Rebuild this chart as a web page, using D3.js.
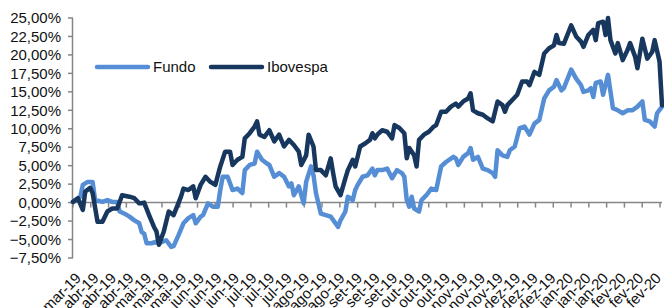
<!DOCTYPE html>
<html lang="pt">
<head>
<meta charset="UTF-8">
<title>Fundo x Ibovespa</title>
<script src="https://cdn.jsdelivr.net/npm/d3@7"></script>
<style>
  body { margin: 0; background: #fff; }
  text { font-family: "Liberation Sans", Arial, sans-serif; font-size: 15px; fill: #111; }
</style>
</head>
<body>
<script>
// rótulos do eixo x (um a cada ~7 pregões)
const rotulos = ['mar-19',
  'abr-19', 'abr-19', 'abr-19', 'mai-19', 'mai-19', 'mai-19',
  'jun-19', 'jun-19', 'jun-19', 'jul-19', 'jul-19', 'jul-19',
  'ago-19', 'ago-19', 'ago-19', 'set-19', 'set-19', 'set-19',
  'out-19', 'out-19', 'out-19', 'nov-19', 'nov-19', 'nov-19',
  'dez-19', 'dez-19', 'dez-19', 'jan-20', 'jan-20', 'jan-20',
  'fev-20', 'fev-20', 'fev-20']
const yTicks = [-7.5, -5, -2.5, 0, 2.5, 5, 7.5, 10, 12.5, 15, 17.5, 20, 22.5, 25]
const totalDias = 240

// retorno acumulado (%) por pregão
const fundoDia = [0, 3, 4, 6, 8, 9, 12, 14, 16, 18, 19, 21, 23, 25, 27, 28, 29, 30, 32, 34, 35, 38, 40, 41,
  43, 45, 47, 49, 50, 52, 53, 55, 57, 59, 60, 61, 63, 65, 67, 69, 70, 72, 74, 75, 77, 79, 80, 82,
  84, 86, 88, 89, 90, 92, 94, 95, 97, 98, 99, 101, 103, 105, 107, 108, 109, 111, 112, 114, 115, 116,
  118, 120, 122, 123, 124, 126, 128, 130, 132, 134, 135, 136, 137, 138, 139, 141, 142, 144, 146, 148,
  149, 150, 152, 155, 156, 157, 159, 161, 162, 163, 165, 167, 169, 171, 172, 173, 175, 177, 178, 180,
  182, 184, 186, 188, 190, 192, 194, 196, 197, 199, 200, 203, 205, 207, 208, 210, 211, 212, 213, 215,
  216, 218, 220, 222, 224, 226, 228, 230, 232, 233, 235, 237, 238, 240]
const fundoValor = [0.1, 0.8, 2.4, 2.8, 2.8, 0.35, 0.1, 0.35, 0.1, 0.1, -1.2, -1.5, -1.9, -2.4, -2.8, -4.0, -4.2, -5.5, -5.5, -5.3, -5.5, -5.1, -6.0, -5.9,
  -4.4, -2.8, -2.1, -1.7, -2.8, -1.9, -1.7, -0.1, -0.55, -0.55, 1.7, 3.5, 3.5, 1.7, 1.9, 1.3, 4.4, 5.1, 5.3, 6.9, 5.8, 5.3, 5.1, 3.5,
  4.0, 3.5, 2.2, 2.6, 1.0, 2.2, -0.1, 2.8, 4.9, 3.7, 1.3, -1.5, -1.7, -1.9, -2.8, -3.3, -2.4, -1.2, 0.8, 0.35, 1.7, 2.4,
  3.5, 3.7, 4.6, 3.7, 4.4, 4.4, 4.6, 3.3, 4.4, 4.0, 3.5, 0.35, -0.55, 0.8, -0.8, -1.2, 0.35, 1.0, 1.9, 1.7,
  3.3, 4.9, 5.5, 6.2, 6.0, 5.1, 6.2, 6.7, 7.4, 5.8, 6.2, 4.6, 4.4, 4.0, 3.5, 7.1, 6.4, 6.2, 7.1, 7.6,
  10.1, 10.3, 9.2, 10.7, 11.2, 14.1, 15.2, 15.7, 16.6, 15.2, 15.5, 18.0, 16.8, 15.9, 15.0, 15.2, 15.5, 14.3, 16.2, 16.4,
  14.6, 17.3, 12.8, 12.5, 12.1, 12.5, 12.5, 13.0, 13.7, 11.2, 11.0, 10.3, 12.1, 13.0]

const iboDia = [0, 2, 4, 5, 7, 8, 10, 12, 14, 16, 18, 20, 23, 25, 27, 29, 31, 33, 34, 35, 37, 39, 41,
  44, 45, 47, 49, 50, 52, 54, 56, 58, 60, 62, 64, 65, 67, 69, 70, 72, 74, 75, 76, 78, 80, 82,
  84, 86, 88, 90, 92, 93, 95, 96, 98, 99, 101, 103, 105, 106, 107, 109, 111, 112, 114, 115, 117, 119,
  121, 122, 123, 124, 126, 128, 130, 131, 133, 135, 136, 137, 139, 140, 141, 143, 145, 147, 148, 150,
  152, 154, 156, 157, 159, 161, 162, 163, 165, 167, 169, 171, 173, 175, 176, 177, 179, 181, 183, 185,
  186, 188, 190, 192, 194, 196, 197, 198, 200, 203, 205, 207, 208, 210, 212, 213, 214, 216, 217, 218,
  219, 221, 222, 224, 226, 227, 229, 230, 232, 234, 236, 237, 239, 240]
const iboValor = [0.1, 0.6, -1.0, 1.5, 2.0, 1.3, -2.6, -2.6, -1.2, -0.8, -0.8, 1.0, 0.8, 0.6, -0.1, 0.0, -1.7, -3.3, -3.9, -5.7, -3.9, -1.2, -1.7,
  0.8, 1.9, 1.7, 2.2, 0.6, 2.4, 3.5, 2.8, 2.4, 4.9, 6.9, 6.9, 5.1, 5.8, 6.2, 8.7, 9.4, 10.3, 11.0, 9.2, 8.9, 9.8, 8.3,
  9.2, 7.6, 8.5, 7.8, 6.9, 5.1, 6.4, 9.2, 7.6, 4.4, 4.4, 3.7, 6.0, 4.0, 2.2, 1.0, 3.3, 4.4, 5.8, 4.9, 7.6, 8.0,
  8.5, 9.4, 8.7, 9.2, 9.8, 9.6, 8.7, 10.5, 10.1, 9.4, 6.0, 7.4, 6.4, 4.9, 8.5, 9.2, 9.6, 10.3, 10.5, 12.3,
  12.3, 13.0, 13.4, 13.0, 13.7, 14.1, 14.8, 12.5, 12.1, 11.9, 11.4, 11.0, 13.7, 13.2, 12.3, 13.2, 13.9, 14.6, 16.4, 16.4,
  15.9, 17.7, 17.3, 20.2, 20.9, 21.3, 22.7, 21.6, 21.5, 24.0, 22.5, 21.8, 21.1, 22.7, 23.4, 22.0, 24.3, 24.5, 22.7, 25.0,
  22.0, 20.2, 21.6, 19.3, 20.7, 21.6, 19.8, 18.2, 22.2, 19.5, 20.4, 22.0, 19.1, 13.2]

const series = [
  {nome: 'Fundo', cor: '#558ED5', dias: fundoDia, valores: fundoValor},
  {nome: 'Ibovespa', cor: '#17375E', dias: iboDia, valores: iboValor}
]

const [width, height] = [664, 308]
const plot = {left: 73, right: 662, top: 18, bottom: 258}

const locale = d3.formatLocale({decimal: ',', thousands: '.', grouping: [3], currency: ['R$', '']})
const fmt = locale.format('.2f')

const x = d3.scaleLinear().domain([0, totalDias]).range([plot.left, plot.right])
const y = d3.scaleLinear().domain([-7.5, 25]).range([plot.bottom, plot.top])
const xTick = d3.scalePoint().domain(d3.range(rotulos.length)).range([73, 660])
const xLabel = d3.scalePoint().domain(d3.range(rotulos.length)).range([82, 662])

const svg = d3.select('body').append('svg')
  .attr('width', width)
  .attr('height', height)

// eixo y
const yAxis = svg.append('g')
yAxis.append('line')
  .attr('x1', plot.left - 0.5).attr('x2', plot.left - 0.5)
  .attr('y1', plot.top).attr('y2', plot.bottom)
  .attr('stroke', '#868686').attr('stroke-width', 1.5)
yAxis.selectAll('line.tick').data(yTicks).enter()
  .append('line').attr('class', 'tick')
  .attr('x1', plot.left - 5).attr('x2', plot.left)
  .attr('y1', d => y(d)).attr('y2', d => y(d))
  .attr('stroke', '#868686').attr('stroke-width', 1.5)
yAxis.selectAll('text').data(yTicks).enter()
  .append('text')
  .attr('x', 61)
  .attr('y', d => y(d))
  .attr('dy', '0.35em')
  .attr('text-anchor', 'end')
  .text(d => fmt(d) + '%')

// eixo x na linha do zero
const xAxis = svg.append('g')
xAxis.append('line')
  .attr('x1', plot.left).attr('x2', plot.right)
  .attr('y1', y(0)).attr('y2', y(0))
  .attr('stroke', '#868686').attr('stroke-width', 1.5)
xAxis.selectAll('line.tick').data(d3.range(rotulos.length)).enter()
  .append('line').attr('class', 'tick')
  .attr('x1', d => xTick(d)).attr('x2', d => xTick(d))
  .attr('y1', y(0)).attr('y2', y(0) + 5)
  .attr('stroke', '#868686').attr('stroke-width', 1.5)
xAxis.selectAll('text').data(rotulos).enter()
  .append('text')
  .attr('text-anchor', 'end')
  .attr('transform', (d, i) => `translate(${xLabel(i)},279) rotate(-45)`)
  .text(d => d)

// linhas
const line = d3.line()
  .x(d => x(d[0]))
  .y(d => y(d[1]))
  .curve(d3.curveLinear)

svg.selectAll('path.serie').data(series).enter()
  .append('path').attr('class', 'serie')
  .attr('d', s => line(s.dias.map((d, i) => [d, s.valores[i]])))
  .attr('fill', 'none')
  .attr('stroke', s => s.cor)
  .attr('stroke-width', 4.5)
  .attr('stroke-linejoin', 'round')
  .attr('stroke-linecap', 'round')

// legenda
const legenda = svg.selectAll('g.legenda').data(series).enter()
  .append('g').attr('class', 'legenda')
  .attr('transform', (d, i) => `translate(${[97, 211][i]},67)`)
legenda.append('line')
  .attr('x1', 0).attr('x2', 51)
  .attr('stroke', d => d.cor)
  .attr('stroke-width', 4.5)
  .attr('stroke-linecap', 'round')
legenda.append('text')
  .attr('x', 56)
  .attr('dy', '0.35em')
  .text(d => d.nome)
</script>
</body>
</html>
